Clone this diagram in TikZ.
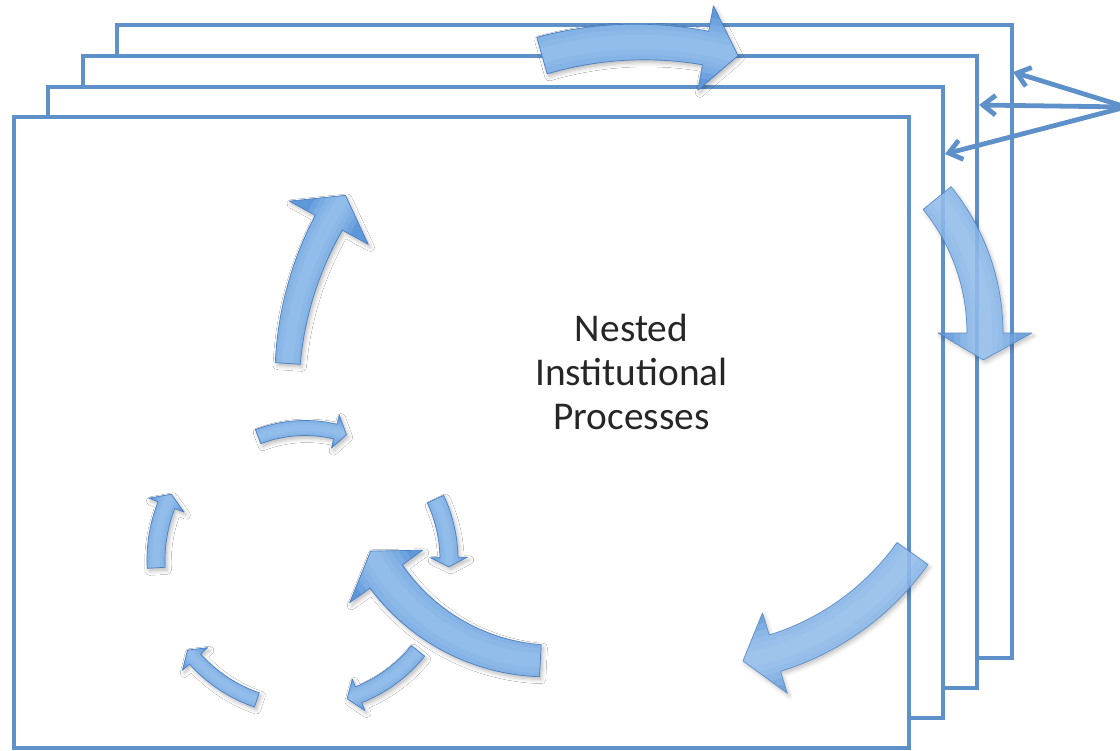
\documentclass[tikz,border=0pt]{standalone}
\usepackage{fontspec}
\setmainfont{Carlito}
\usetikzlibrary{arrows.meta,shadows.blur}

\definecolor{sheetline}{HTML}{5E90CA}
\definecolor{arrowmid}{HTML}{5F98DA}
\definecolor{arrowlight}{HTML}{A9CCF3}
\definecolor{arrowdark}{HTML}{4A80C2}

\tikzset{
  sheet/.style={draw=sheetline, line width=2.6pt, fill=white},
  sheetpointer/.style={draw=sheetline, line cap=round,
    -{Straight Barb[length=9pt,width=14pt]}},
  arrowbody/.style={fill=arrowmid,
    blur shadow={shadow xshift=1.4pt, shadow yshift=-2pt,
                 shadow blur radius=3pt, shadow opacity=28}},
  arrowedge/.style={draw=arrowdark, line width=0.5pt, line join=round},
  captiontext/.style={font=\fontsize{28}{31.5}\selectfont, align=center,
    text=black!85},
}

% Curved block arrow along a circular arc.
% #1,#2 centre  #3 radius  #4 tail angle  #5 head-base angle  #6 tip angle
% #7 shaft half-width at tail  #8 shaft half-width at head  #9 head half-width
\newcommand\curvedarrow[9]{%
  \def\arrowshape{plot[domain=#4:#5, samples=30, variable=\t]
      ({#1+(#3-(#7)-((#8)-(#7))*(\t-(#4))/((#5)-(#4)))*cos(\t)},
       {#2+(#3-(#7)-((#8)-(#7))*(\t-(#4))/((#5)-(#4)))*sin(\t)})
    -- ({#1+(#3-(#9))*cos(#5)}, {#2+(#3-(#9))*sin(#5)})
    -- ({#1+(#3)*cos(#6)}, {#2+(#3)*sin(#6)})
    -- ({#1+(#3+(#9))*cos(#5)}, {#2+(#3+(#9))*sin(#5)})
    -- plot[domain=#5:#4, samples=30, variable=\t]
      ({#1+(#3+(#7)+((#8)-(#7))*(\t-(#4))/((#5)-(#4)))*cos(\t)},
       {#2+(#3+(#7)+((#8)-(#7))*(\t-(#4))/((#5)-(#4)))*sin(\t)})
    -- cycle}%
  \path[arrowbody] \arrowshape;
  \begin{scope}
    \clip \arrowshape;
    % soft bevel: stacked translucent strokes along the centre line
    \foreach \f in {1.7,1.35,1.0,0.7,0.4} {
      \draw[arrowlight, opacity=0.22, line width={\f*(#7+#8)*0.711pt}]
        plot[domain=#4:#6, samples=30, variable=\t]
        ({#1+(#3)*cos(\t)}, {#2+(#3)*sin(\t)});
    }
  \end{scope}
  \path[arrowedge] \arrowshape;
}

\begin{document}
\begin{tikzpicture}[x=0.025cm, y=-0.025cm]
  \useasboundingbox (0,0) rectangle (1120,751);

  % stacked sheets, back to front
  \draw[sheet] (117,25) rectangle (1012,658);
  \draw[sheet] (83,56) rectangle (977,688);
  \draw[sheet] (48,87) rectangle (943,718);
  \draw[sheet] (14,117) rectangle (909,748);

  % pointers to the three rear sheets
  \coordinate (src) at (1126,107);
  \coordinate (edge4) at (1013,72);
  \coordinate (edge3) at (979,105);
  \coordinate (edge2) at (945,154);
  \draw[sheetpointer, line width=3.4pt] (src) -- (edge4);
  \draw[sheetpointer, line width=3.4pt] (src) -- (edge3);
  \draw[sheetpointer, line width=3.4pt] (src) -- (edge2);

  % large arrows around the sheets
  \curvedarrow{640}{402}{360}{-105.8}{-79.5}{-74.2}{19}{17}{43}
  \begin{scope}[transparency group, opacity=0.88]
    \curvedarrow{771}{333}{214}{-39.1}{0}{7.2}{18}{18}{47}
  \end{scope}
  \begin{scope}[transparency group, opacity=0.88]
    \curvedarrow{696.5}{400}{265}{35.4}{72.8}{79.9}{19}{19}{42}
  \end{scope}
  \curvedarrow{551}{458}{203}{93}{144.3}{152.7}{16}{20}{45}
  \curvedarrow{627}{386}{340}{183.8}{208.7}{214.1}{12.5}{15.5}{45}

  % small inner cycle
  \curvedarrow{305}{560}{132}{-110.8}{-76.7}{-71.7}{7.5}{7.5}{17}
  \curvedarrow{305}{560}{144}{-25}{-1}{2.7}{9}{9}{18.5}
  \curvedarrow{305}{560}{145}{38.8}{68.3}{73.1}{8.5}{8.5}{17}
  \curvedarrow{305}{560}{148}{109}{138}{142.5}{7.5}{7.5}{17}
  \curvedarrow{305}{560}{149}{177}{201.6}{206.2}{9}{9}{19}

  \node[captiontext] (title) at (631.5,372) {Nested\\Institutional\\Processes};
\end{tikzpicture}
\end{document}
